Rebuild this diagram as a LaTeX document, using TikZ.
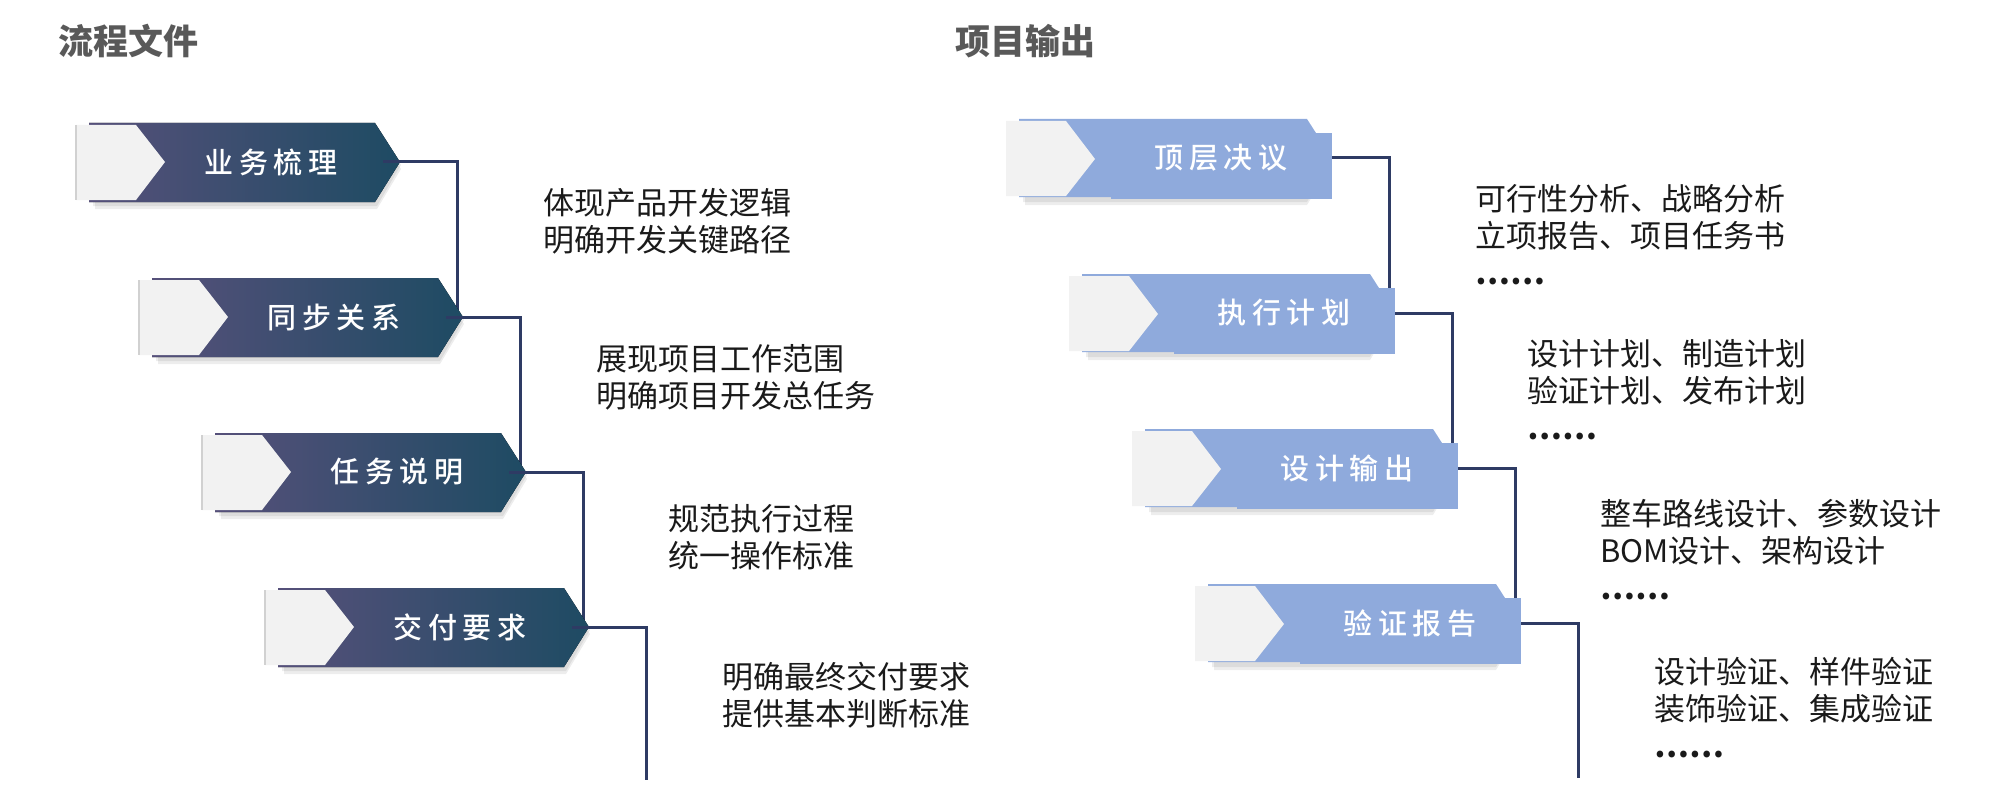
\documentclass[tikz,border=0pt]{standalone}
\usepackage{fontspec}
\setmainfont{Noto Sans CJK SC}[BoldFont={Noto Sans CJK SC Black}]
\newfontfamily\boxfont[LetterSpace=20]{Noto Sans CJK SC Medium}
\definecolor{chevleft}{HTML}{56507A}
\definecolor{chevright}{HTML}{1E4B63}
\definecolor{chevblue}{HTML}{8FAADC}
\definecolor{tabgray}{HTML}{F2F2F2}
\definecolor{linknavy}{HTML}{2E3B64}
\definecolor{titlegray}{HTML}{595959}
\definecolor{desctext}{HTML}{1A1A1A}
\pgfdeclarelayer{background}
\pgfsetlayers{background,main}
\newcommand{\boxshadow}{%
  \fill[black,opacity=0.07] (6,8) -- (288,8) -- (312,46) -- (288,86) -- (6,86) -- cycle;
  \fill[black,opacity=0.07] (4,4) -- (288,4) -- (312,42) -- (288,83) -- (4,83) -- cycle;}
\newcommand{\darkchevron}[3]{%
  \begin{scope}[shift={(#1,#2)}]
    \boxshadow
    \fill[left color=chevleft,right color=chevright] (0,0) -- (286,0) -- (311,39) -- (286,79) -- (0,79) -- cycle;
    \fill[tabgray] (-13,2) -- (47,2) -- (76,39) -- (47,77) -- (-13,77) -- cycle;
    \draw[black!18,line width=0.8pt] (-13,2) -- (-13,77);
    \coordinate (#3) at (311,39);
    \coordinate (#3s) at (294,39);
    \coordinate (#3j) at (305,39);
  \end{scope}}
\newcommand{\bluechevron}[3]{%
  \begin{scope}[shift={(#1,#2)}]
    \boxshadow
    \fill[chevblue] (0,0) -- (288,0) -- (313,39) -- (288,78) -- (0,78) -- cycle;
    \fill[chevblue] (92,14) rectangle (313,80);
    \fill[tabgray] (-13,2) -- (47,2) -- (76,40) -- (47,77) -- (-13,77) -- cycle;
    \coordinate (#3) at (313,39);
    \coordinate (#3j) at (307,39);
  \end{scope}}
\begin{document}
\begin{tikzpicture}[x=0.5pt,y=-0.5pt,
    link/.style={draw=linknavy,line width=1.5pt},
    boxlabel/.style={text=white,font=\boxfont\fontsize{14.5pt}{16pt}\selectfont,inner sep=0pt},
    heading/.style={text=titlegray,font=\fontsize{17.5pt}{20pt}\selectfont\bfseries,anchor=west,inner sep=0pt},
    desc/.style={text=desctext,font=\fontsize{15.5pt}{18.5pt}\selectfont,align=left,anchor=north west,inner sep=0pt}]
  \useasboundingbox (0,0) rectangle (1992,808);
  \node[heading] (h0) at (58,41) {流程文件};
  \node[heading] (h1) at (955,41) {项目输出};
  \darkchevron{89}{123}{l0}
  \darkchevron{152}{278}{l1}
  \darkchevron{215}{433}{l2}
  \darkchevron{278}{588}{l3}
  \node[boxlabel] (b0) at (271,162) {业务梳理};
  \node[boxlabel] (b1) at (334,317) {同步关系};
  \node[boxlabel] (b2) at (397,472) {任务说明};
  \node[boxlabel] (b3) at (460,627) {交付要求};
  \bluechevron{1019}{119}{r0}
  \bluechevron{1082}{274}{r1}
  \bluechevron{1145}{429}{r2}
  \bluechevron{1208}{584}{r3}
  \node[boxlabel] (c0) at (1221,158) {顶层决议};
  \node[boxlabel] (c1) at (1284,313) {执行计划};
  \node[boxlabel] (c2) at (1347,468) {设计输出};
  \node[boxlabel] (c3) at (1410,623) {验证报告};
  \coordinate (lend) at (646,780);
  \coordinate (rend) at (1578,778);
  \begin{pgfonlayer}{background}
    \draw[link] (l0) -| (l1j);
    \draw[link] (l1) -| (l2j);
    \draw[link] (l2) -| (l3j);
    \draw[link] (l3) -| (lend);
    \draw[link] (r0) -| (r1j);
    \draw[link] (r1) -| (r2j);
    \draw[link] (r2) -| (r3j);
    \draw[link] (r3) -| (rend);
  \end{pgfonlayer}
  \draw[link] (l0s) -- (l0);
  \draw[link] (l1s) -- (l1);
  \draw[link] (l2s) -- (l2);
  \draw[link] (l3s) -- (l3);
  \node[desc] (d0) at (543,188) {体现产品开发逻辑\\明确开发关键路径};
  \node[desc] (d1) at (596,344) {展现项目工作范围\\明确项目开发总任务};
  \node[desc] (d2) at (668,504) {规范执行过程\\统一操作标准};
  \node[desc] (d3) at (722,662) {明确最终交付要求\\提供基本判断标准};
  \node[desc] (e0) at (1475,184) {可行性分析、战略分析\\立项报告、项目任务书\\\textbf{……}};
  \node[desc] (e1) at (1527,339) {设计计划、制造计划\\验证计划、发布计划\\\textbf{……}};
  \node[desc] (e2) at (1600,499) {整车路线设计、参数设计\\BOM设计、架构设计\\\textbf{……}};
  \node[desc] (e3) at (1654,657) {设计验证、样件验证\\装饰验证、集成验证\\\textbf{……}};
\end{tikzpicture}
\end{document}
